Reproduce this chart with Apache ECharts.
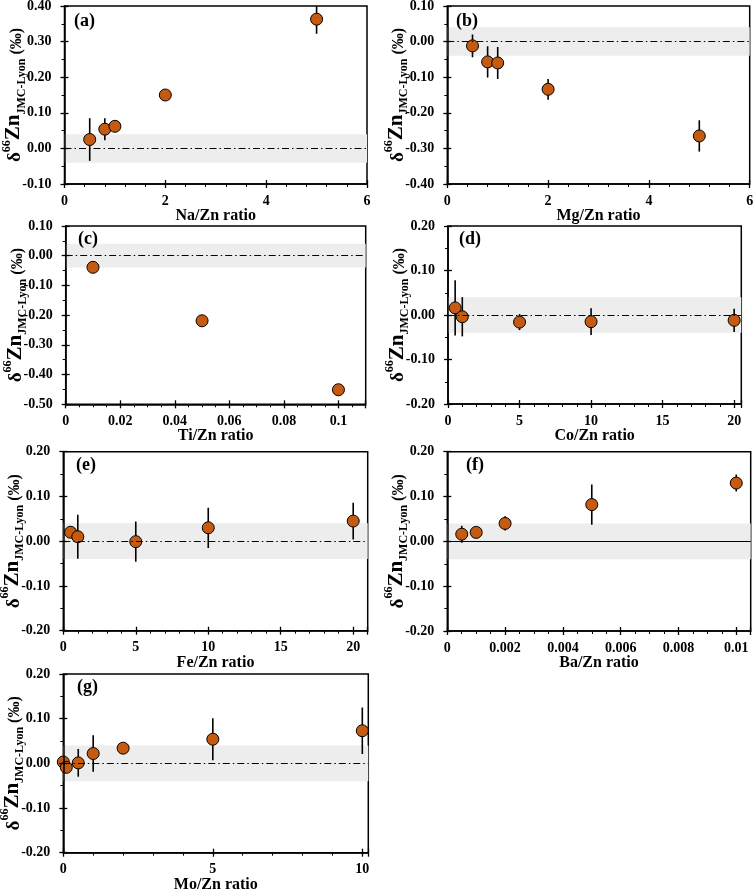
<!DOCTYPE html>
<html>
<head>
<meta charset="utf-8">
<script src="https://cdn.jsdelivr.net/npm/echarts@6/dist/echarts.min.js"></script>
<style>html,body{margin:0;padding:0;background:#fff}#c{width:756px;height:889px}</style>
</head>
<body>
<div id="c"></div>
<script>
// ---------- DATA ----------
const naX = [0.5, 0.8, 1, 2, 5];
const naY = [0.025, 0.054, 0.062, 0.150, 0.363];
const naErr = [0.060, 0.031, 0, 0, 0.041];

const mgX = [0.5, 0.8, 1, 2, 5];
const mgY = [-0.012, -0.057, -0.060, -0.134, -0.265];
const mgErr = [0.032, 0.044, 0.045, 0.029, 0.044];

const tiX = [0.01, 0.05, 0.1];
const tiY = [-0.039, -0.219, -0.451];
const tiErr = [0, 0, 0.012];

const coX = [0.5, 1, 5, 10, 20];
const coY = [0.016, -0.004, -0.016, -0.015, -0.012];
const coErr = [0.062, 0.044, 0.018, 0.030, 0.026];

const feX = [0.5, 1, 5, 10, 20];
const feY = [0.020, 0.010, -0.001, 0.030, 0.045];
const feErr = [0, 0.049, 0.045, 0.045, 0.041];

const baX = [0.0005, 0.001, 0.002, 0.005, 0.01];
const baY = [0.016, 0.020, 0.040, 0.082, 0.130];
const baErr = [0.019, 0, 0.016, 0.045, 0.019];

const moX = [0, 0.1, 0.5, 1, 2, 5, 10];
const moY = [0.003, -0.009, 0.001, 0.022, 0.034, 0.054, 0.073];
const moErr = [0, 0, 0.031, 0.041, 0, 0.047, 0.052];

const bandHalfWidth = 0.04;

const panelLabels = ['(a)', '(b)', '(c)', '(d)', '(e)', '(f)', '(g)'];
const xNames = ['Na/Zn ratio', 'Mg/Zn ratio', 'Ti/Zn ratio', 'Co/Zn ratio', 'Fe/Zn ratio', 'Ba/Zn ratio', 'Mo/Zn ratio'];
// [min, max, interval]
const xScales = [[0, 6, 2], [0, 6, 2], [0, 0.11, 0.02], [0, 20.5, 5], [0, 21, 5], [0, 0.0105, 0.002], [0, 10.2, 5]];
const yScales = [[-0.1, 0.4, 0.1], [-0.4, 0.1, 0.1], [-0.5, 0.1, 0.1], [-0.2, 0.2, 0.1], [-0.2, 0.2, 0.1], [-0.2, 0.2, 0.1], [-0.2, 0.2, 0.1]];

const panelData = [
  [naX, naY, naErr], [mgX, mgY, mgErr], [tiX, tiY, tiErr], [coX, coY, coErr],
  [feX, feY, feErr], [baX, baY, baErr], [moX, moY, moErr]
];

// ---------- LAYOUT / STYLE ----------
const layout = [
  {left: 64.5, top: 6, width: 302.5, height: 178},
  {left: 447.3, top: 6, width: 302.4, height: 178},
  {left: 65.7, top: 226, width: 300, height: 178.3},
  {left: 448, top: 226, width: 293.3, height: 178},
  {left: 63.3, top: 451.7, width: 304.4, height: 179},
  {left: 447.3, top: 451.7, width: 303.4, height: 179.3},
  {left: 63.3, top: 674, width: 305, height: 178.7}
];
const labelPos = [[74, 12], [456, 12], [78, 230], [459, 230], [76, 456], [466, 456], [77, 678]];
const xMinorSplit = [5, 5, 4, 5, 5, 4, 5];
const zeroSolid = [false, false, false, false, false, true, false];

const FONT = '"Liberation Serif", "Times New Roman", serif';
const markerColor = '#C55A11';

const yName = '{d|δ}{sup|66}{zn|Zn}{sub|JMC-Lyon}{p| (‰)}';
const yRich = {
  d: {fontFamily: FONT, fontWeight: 'bold', fontSize: 19, color: '#000', lineHeight: 24, verticalAlign: 'bottom'},
  sup: {fontFamily: FONT, fontWeight: 'bold', fontSize: 12, color: '#000', lineHeight: 24, verticalAlign: 'top'},
  zn: {fontFamily: FONT, fontWeight: 'bold', fontSize: 21, color: '#000', lineHeight: 24, verticalAlign: 'bottom'},
  sub: {fontFamily: FONT, fontWeight: 'bold', fontSize: 12, color: '#000', lineHeight: 24, verticalAlign: 'bottom', padding: [0, 0, -3, 0]},
  p: {fontFamily: FONT, fontWeight: 'bold', fontSize: 16, color: '#000', lineHeight: 24, verticalAlign: 'bottom'}
};

function alignedFormatter(interval, digits) {
  return function (v) {
    const r = v / interval;
    if (Math.abs(r - Math.round(r)) > 1e-6) return '';
    return digits == null ? String(+v.toFixed(6)) : v.toFixed(digits);
  };
}

const grid = [], xAxis = [], yAxis = [], series = [], title = [];
const n = layout.length;

layout.forEach((g) => {
  grid.push(Object.assign({show: true, borderColor: '#000', borderWidth: 1.5, containLabel: false, outerBoundsMode: 'none'}, g));
});
// overlay grids carrying the inward half of the major ticks
layout.forEach((g) => {
  grid.push(Object.assign({show: false, containLabel: false, outerBoundsMode: 'none'}, g));
});

for (let i = 0; i < n; i++) {
  const [xmin, xmax, xint] = xScales[i];
  const [ymin, ymax, yint] = yScales[i];
  xAxis.push({
    type: 'value', gridIndex: i, min: xmin, max: xmax, interval: xint,
    position: 'bottom', z: 5,
    name: xNames[i], nameLocation: 'middle', nameGap: 24, nameMoveOverlap: false,
    nameTextStyle: {fontFamily: FONT, fontWeight: 'bold', fontSize: 16, color: '#000'},
    axisLine: {show: true, onZero: false, lineStyle: {color: '#000', width: 1.5}},
    axisTick: {show: true, length: 4, lineStyle: {color: '#000', width: 1.3}},
    minorTick: {show: true, splitNumber: xMinorSplit[i], length: 3, lineStyle: {color: '#000', width: 1}},
    splitLine: {show: false},
    axisLabel: {fontFamily: FONT, fontWeight: 'bold', fontSize: 14, color: '#000', margin: 10,
      formatter: alignedFormatter(xint, null), showMaxLabel: true, hideOverlap: false}
  });
  yAxis.push({
    type: 'value', gridIndex: i, min: ymin, max: ymax, interval: yint,
    position: 'left', z: 5,
    name: yName, nameLocation: 'middle', nameGap: 40, nameRotate: 90, nameMoveOverlap: false,
    nameTextStyle: {rich: yRich},
    axisLine: {show: true, onZero: false, lineStyle: {color: '#000', width: 1.5}},
    axisTick: {show: true, length: 4, lineStyle: {color: '#000', width: 1.3}},
    minorTick: {show: true, splitNumber: 2, length: 3, lineStyle: {color: '#000', width: 1}},
    splitLine: {show: false},
    axisLabel: {fontFamily: FONT, fontWeight: 'bold', fontSize: 14, color: '#000', margin: 13,
      formatter: alignedFormatter(yint, 2)}
  });
}
for (let i = 0; i < n; i++) {
  const [xmin, xmax, xint] = xScales[i];
  const [ymin, ymax, yint] = yScales[i];
  xAxis.push({
    type: 'value', gridIndex: n + i, min: xmin, max: xmax, interval: xint, position: 'bottom', z: 5,
    axisLine: {show: false, onZero: false}, axisLabel: {show: false}, splitLine: {show: false},
    axisTick: {show: true, inside: true, length: 4, lineStyle: {color: '#000', width: 1.3}}
  });
  yAxis.push({
    type: 'value', gridIndex: n + i, min: ymin, max: ymax, interval: yint, position: 'left', z: 5,
    axisLine: {show: false, onZero: false}, axisLabel: {show: false}, splitLine: {show: false},
    axisTick: {show: true, inside: true, length: 4, lineStyle: {color: '#000', width: 1.3}}
  });
  series.push({type: 'scatter', xAxisIndex: n + i, yAxisIndex: n + i, data: [], silent: true});
}

for (let i = 0; i < n; i++) {
  const [xs, ys, es] = panelData[i];
  series.push({
    type: 'line', xAxisIndex: i, yAxisIndex: i, data: [], silent: true, z: 1,
    markArea: {silent: true, itemStyle: {color: '#ededed'},
      data: [[{yAxis: -bandHalfWidth}, {yAxis: bandHalfWidth}]]},
    markLine: {silent: true, symbol: 'none', label: {show: false},
      lineStyle: {color: '#000', width: 1, type: zeroSolid[i] ? 'solid' : [7, 3, 1.5, 3]},
      data: [{yAxis: 0}]}
  });
  series.push({
    type: 'custom', xAxisIndex: i, yAxisIndex: i, z: 2, silent: true, clip: true,
    data: xs.map((x, k) => [x, ys[k], es[k]]),
    encode: {x: 0, y: 1},
    renderItem: function (params, api) {
      const x = api.value(0), y = api.value(1), e = api.value(2);
      if (!e) return null;
      const p1 = api.coord([x, y - e]);
      const p2 = api.coord([x, y + e]);
      return {type: 'line', shape: {x1: p1[0], y1: p1[1], x2: p2[0], y2: p2[1]},
        style: {stroke: '#000', lineWidth: 1.6}};
    }
  });
  series.push({
    type: 'scatter', xAxisIndex: i, yAxisIndex: i, z: 3,
    symbol: 'circle', symbolSize: 12,
    itemStyle: {color: markerColor, borderColor: '#000', borderWidth: 1, opacity: 1},
    data: xs.map((x, k) => [x, ys[k]])
  });
  title.push({
    text: panelLabels[i], left: labelPos[i][0], top: labelPos[i][1], padding: 0,
    textStyle: {fontFamily: FONT, fontWeight: 'bold', fontSize: 18, color: '#000'}
  });
}

const chart = echarts.init(document.getElementById('c'), null, {renderer: 'canvas'});
chart.setOption({animation: false, backgroundColor: '#fff', title, grid, xAxis, yAxis, series});
</script>
</body>
</html>
